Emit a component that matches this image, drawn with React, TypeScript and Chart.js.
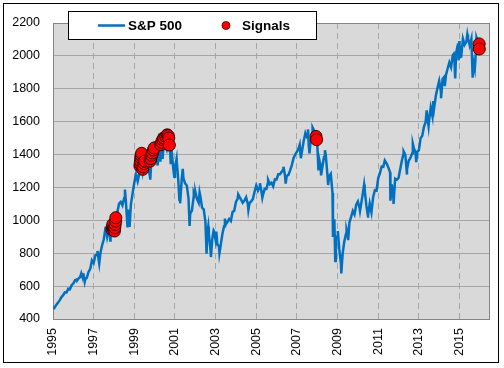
import React, { useEffect, useRef } from 'react';
import { Chart, registerables } from 'chart.js';

Chart.register(...registerables);

// S&P 500 month-end closes, Jan 1995 .. Nov 2015
const monthlyCloses: number[] = [
  470.42, 487.39, 500.71, 514.71, 533.4, 544.75, 562.06, 561.88, 584.41, 581.5, 605.37, 615.93,
  636.02, 640.43, 645.5, 654.17, 669.12, 670.63, 639.95, 651.99, 687.31, 705.27, 757.02, 740.74,
  786.16, 790.82, 757.12, 801.34, 848.28, 885.14, 954.31, 899.47, 947.28, 914.62, 955.4, 970.43,
  980.28, 1049.34, 1101.75, 1111.75, 1090.82, 1133.84, 1120.67, 957.28, 1017.01, 1098.67, 1163.63, 1229.23,
  1279.64, 1238.33, 1286.37, 1335.18, 1301.84, 1372.71, 1328.72, 1320.41, 1282.71, 1362.93, 1388.91, 1469.25,
  1394.46, 1366.42, 1498.58, 1452.43, 1420.6, 1454.6, 1430.83, 1517.68, 1436.51, 1429.4, 1314.95, 1320.28,
  1366.01, 1239.94, 1160.33, 1249.46, 1255.82, 1224.42, 1211.23, 1133.58, 1040.94, 1059.78, 1139.45, 1148.08,
  1130.2, 1106.73, 1147.39, 1076.92, 1067.14, 989.82, 911.62, 916.07, 815.28, 885.76, 936.31, 879.82,
  855.7, 841.15, 848.18, 916.92, 963.59, 974.5, 990.31, 1008.01, 995.97, 1050.71, 1058.2, 1111.92,
  1131.13, 1144.94, 1126.21, 1107.3, 1120.68, 1140.84, 1101.72, 1104.24, 1114.58, 1130.2, 1173.82, 1211.92,
  1181.27, 1203.6, 1180.59, 1156.85, 1191.5, 1191.33, 1234.18, 1220.33, 1228.81, 1207.01, 1249.48, 1248.29,
  1280.08, 1280.66, 1294.87, 1310.61, 1270.09, 1270.2, 1276.66, 1303.82, 1335.85, 1377.94, 1400.63, 1418.3,
  1438.24, 1406.82, 1420.86, 1482.37, 1530.62, 1503.35, 1455.27, 1473.99, 1526.75, 1549.38, 1481.14, 1468.36,
  1378.55, 1330.63, 1322.7, 1385.59, 1400.38, 1280.0, 1267.38, 1282.83, 1166.36, 968.75, 896.24, 903.25,
  825.88, 735.09, 797.87, 872.81, 919.14, 919.32, 987.48, 1020.62, 1057.08, 1036.19, 1095.63, 1115.1,
  1073.87, 1104.49, 1169.43, 1186.69, 1089.41, 1030.71, 1101.6, 1049.33, 1141.2, 1183.26, 1180.55, 1257.64,
  1286.12, 1327.22, 1325.83, 1363.61, 1345.2, 1320.64, 1292.28, 1218.89, 1131.42, 1253.3, 1246.96, 1257.6,
  1312.41, 1365.68, 1408.47, 1397.91, 1310.33, 1362.16, 1379.32, 1406.58, 1440.67, 1412.16, 1416.18, 1426.19,
  1498.11, 1514.68, 1569.19, 1597.57, 1630.74, 1606.28, 1685.73, 1632.97, 1681.55, 1756.54, 1805.81, 1848.36,
  1782.59, 1859.45, 1872.34, 1883.95, 1923.57, 1960.23, 1930.67, 2003.37, 1972.29, 2018.05, 2067.56, 2058.9,
  1994.99, 2104.5, 2067.89, 2085.51, 2107.39, 2063.11, 2103.84, 1972.18, 1920.03, 2079.36, 2080.41,
];

// Intra-month closes at notable highs and lows
const extremeDates: string[] = [
  '1995-01-03', '1996-03-08', '1996-05-24', '1996-07-24', '1997-03-11', '1997-04-11', '1997-08-06',
  '1997-10-07', '1997-10-27', '1998-07-17', '1998-09-23', '1998-10-08', '1999-05-13', '1999-07-16',
  '1999-10-15', '2000-01-14', '2000-02-25', '2000-03-24', '2000-04-14', '2000-05-24', '2000-09-01',
  '2000-10-18', '2000-12-20', '2001-01-30', '2001-03-22', '2001-04-04', '2001-05-21', '2001-09-21',
  '2001-12-05', '2002-01-04', '2002-03-19', '2002-07-23', '2002-08-22', '2002-10-09', '2002-11-27',
  '2003-01-14', '2003-03-11', '2003-06-17', '2004-02-11', '2004-08-12', '2005-03-07', '2005-04-20',
  '2005-08-02', '2006-05-05', '2006-06-13', '2007-02-20', '2007-03-13', '2007-07-19', '2007-08-15',
  '2007-10-09', '2008-01-22', '2008-03-10', '2008-05-19', '2008-07-15', '2008-10-10', '2008-11-04',
  '2008-11-20', '2009-01-06', '2009-03-09', '2009-06-12', '2009-07-10', '2010-02-08', '2010-04-23',
  '2010-07-02', '2011-04-29', '2011-08-08', '2011-10-03', '2012-04-02', '2012-06-01', '2012-09-14',
  '2012-11-15', '2013-05-21', '2013-06-24', '2013-09-18', '2014-02-03', '2014-04-11', '2014-09-18',
  '2014-10-15', '2014-12-05', '2014-12-16', '2014-12-29', '2015-01-15', '2015-05-21', '2015-08-25',
  '2015-11-03',
];
const extremeValues: number[] = [
  459.11, 633.5, 678.5, 626.65, 813.65, 737.65, 960.32,
  983.12, 876.99, 1186.75, 1066.09, 959.44, 1367.56, 1418.78,
  1247.41, 1465.15, 1333.36, 1527.46, 1356.56, 1373.86, 1520.77,
  1342.13, 1264.74, 1373.73, 1117.58, 1103.25, 1312.83, 965.8,
  1170.35, 1172.51, 1170.29, 797.7, 962.7, 776.76, 938.87,
  931.66, 800.73, 1010.74, 1157.76, 1063.23, 1225.31, 1137.5,
  1245.04, 1325.76, 1223.69, 1459.68, 1377.95, 1553.08, 1406.7,
  1565.15, 1310.5, 1273.37, 1426.63, 1214.91, 899.22, 1005.75,
  752.44, 934.7, 676.53, 946.21, 879.13, 1056.74, 1217.28,
  1022.58, 1363.61, 1119.46, 1099.23, 1419.04, 1278.04, 1465.77,
  1353.33, 1669.16, 1573.09, 1725.52, 1741.89, 1815.69, 2011.36,
  1862.49, 2075.37, 1972.74, 2090.57, 1992.67, 2130.82, 1867.61,
  2109.79,
];

const signalDates: string[] = [
  '1997-11-24', '1997-12-01', '1997-12-10', '1997-12-22', '1998-01-02', '1998-01-09', '1998-01-16',
  '1998-01-23', '1998-01-30', '1998-02-03',
  '1999-04-12', '1999-04-16', '1999-04-22', '1999-04-28', '1999-05-05', '1999-05-12', '1999-06-01',
  '1999-06-10', '1999-06-25', '1999-07-06',
  '1999-10-12', '1999-10-25', '1999-11-08', '1999-11-22', '1999-12-10', '1999-12-24',
  '2000-04-20', '2000-05-05', '2000-05-25', '2000-06-12', '2000-07-18', '2000-08-15', '2000-09-01',
  '2000-09-12', '2000-09-22',
  '2007-12-10', '2007-12-20',
  '2015-12-20', '2015-12-22',
];
const signalValues: number[] = [
  945, 960, 975, 950, 940, 935, 955,
  975, 995, 1016,
  1330, 1345, 1360, 1380, 1395, 1408, 1310,
  1325, 1345, 1360,
  1360, 1375, 1395, 1410, 1428, 1440,
  1460, 1475, 1490, 1500, 1510, 1520, 1515,
  1500, 1458,
  1510, 1490,
  2073, 2042,
];

const xTickYears: number[] = [1995, 1997, 1999, 2001, 2003, 2005, 2007, 2009, 2011, 2013, 2015];
const yTicks: number[] = [400, 600, 800, 1000, 1200, 1400, 1600, 1800, 2000, 2200];

const seriesLabels = ['S&P 500', 'Signals'];

function toYear(s: string): number {
  const [y, m, d] = s.split('-').map(Number);
  const start = Date.UTC(y, 0, 1);
  const end = Date.UTC(y + 1, 0, 1);
  return y + (Date.UTC(y, m - 1, d) - start) / (end - start);
}

const FONT = "'Liberation Sans', Arial, sans-serif";

export default function App() {
  const ref = useRef<HTMLCanvasElement | null>(null);

  useEffect(() => {
    document.body.style.margin = '0';
    const canvas = ref.current;
    if (!canvas) return;

    const linePts = [
      ...monthlyCloses.map((v, i) => ({ x: 1995 + (i + 1) / 12, y: v })),
      ...extremeDates.map((d, i) => ({ x: toYear(d), y: extremeValues[i] })),
    ].sort((a, b) => a.x - b.x);
    const sigPts = signalDates.map((d, i) => ({ x: toYear(d), y: signalValues[i] }));

    const frame = {
      id: 'frame',
      beforeDraw(chart: any) {
        const { ctx, chartArea: a } = chart;
        ctx.save();
        ctx.fillStyle = '#ffffff';
        ctx.fillRect(0, 0, chart.width, chart.height);
        ctx.fillStyle = '#d9d9d9';
        ctx.fillRect(a.left, a.top, a.right - a.left, a.bottom - a.top);
        ctx.strokeStyle = '#000000';
        ctx.lineWidth = 1;
        ctx.strokeRect(3.5, 3.5, 495, 359);
        ctx.restore();
      },
      beforeDatasetsDraw(chart: any) {
        const { ctx, chartArea: a } = chart;
        ctx.save();
        ctx.strokeStyle = '#868686';
        ctx.lineWidth = 1;
        ctx.strokeRect(Math.round(a.left) + 0.5, Math.round(a.top) + 0.5, Math.round(a.right - a.left), Math.round(a.bottom - a.top));
        ctx.restore();
      },
      afterDraw(chart: any) {
        const { ctx } = chart;
        const ds = chart.data.datasets;
        ctx.save();
        ctx.fillStyle = '#ffffff';
        ctx.fillRect(68, 11, 248, 28);
        ctx.strokeStyle = '#000000';
        ctx.lineWidth = 1;
        ctx.strokeRect(68.5, 11.5, 248, 28);
        const cy = 25.5;
        ctx.strokeStyle = ds[1].borderColor;
        ctx.lineWidth = 2.5;
        ctx.beginPath();
        ctx.moveTo(98, cy);
        ctx.lineTo(125, cy);
        ctx.stroke();
        ctx.font = `bold 13.5px ${FONT}`;
        ctx.fillStyle = '#000000';
        ctx.textBaseline = 'middle';
        ctx.textAlign = 'left';
        ctx.fillText(ds[1].label, 128, cy + 0.5);
        ctx.beginPath();
        ctx.arc(226, cy, 4, 0, Math.PI * 2);
        ctx.fillStyle = ds[0].backgroundColor;
        ctx.fill();
        ctx.lineWidth = 0.8;
        ctx.strokeStyle = '#400000';
        ctx.stroke();
        ctx.fillStyle = '#000000';
        ctx.fillText(ds[0].label, 242, cy + 0.5);
        ctx.restore();
      },
    };

    const chart = new Chart(canvas, {
      type: 'line',
      data: {
        datasets: [
          {
            type: 'scatter',
            label: seriesLabels[1],
            data: sigPts,
            backgroundColor: '#ff0000',
            borderColor: '#3a0000',
            borderWidth: 1,
            pointRadius: 6,
            order: 0,
          } as any,
          {
            type: 'line',
            label: seriesLabels[0],
            data: linePts,
            borderColor: '#0070c0',
            borderWidth: 2.5,
            pointRadius: 0,
            tension: 0,
            fill: false,
            order: 1,
          },
        ],
      },
      options: {
        animation: false,
        responsive: false,
        events: [],
        layout: { padding: { left: 8, top: 23, right: 15, bottom: 9 } },
        plugins: { legend: { display: false }, tooltip: { enabled: false } },
        scales: {
          x: {
            type: 'linear',
            min: 1995,
            max: 2016.45,
            afterBuildTicks: (scale: any) => {
              scale.ticks = xTickYears.map((v) => ({ value: v }));
            },
            afterFit: (scale: any) => {
              scale.height = 40;
            },
            ticks: {
              minRotation: 90,
              maxRotation: 90,
              autoSkip: false,
              padding: 9,
              color: '#000000',
              font: { family: FONT, size: 12.5 },
              callback: (v: any) => String(v),
            },
            grid: { color: '#a6a6a6', lineWidth: 1, drawTicks: false },
            border: { display: true, color: '#868686', dash: [6, 4] },
          },
          y: {
            type: 'linear',
            min: 400,
            max: 2200,
            afterBuildTicks: (scale: any) => {
              scale.ticks = yTicks.map((v) => ({ value: v }));
            },
            afterFit: (scale: any) => {
              scale.width = 45;
            },
            ticks: {
              padding: 13,
              color: '#000000',
              font: { family: FONT, size: 12.5 },
              callback: (v: any) => String(v),
            },
            grid: { color: '#a6a6a6', lineWidth: 1, drawTicks: false },
            border: { display: true, color: '#868686' },
          },
        },
      },
      plugins: [frame],
    });

    return () => chart.destroy();
  }, []);

  return (
    <div style={{ position: 'absolute', left: 0, top: 0, width: 504, height: 368 }}>
      <canvas ref={ref} width={504} height={368} style={{ width: 504, height: 368, display: 'block' }} />
    </div>
  );
}
